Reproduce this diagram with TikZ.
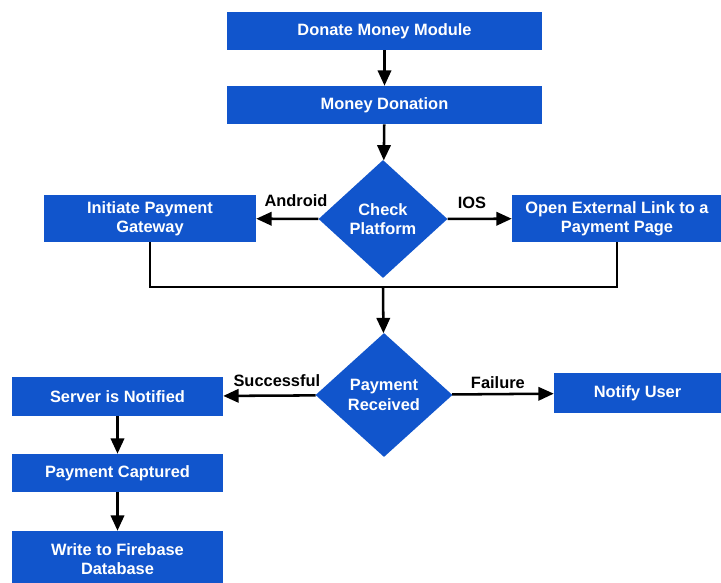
\documentclass[tikz,border=0pt]{standalone}
\usepackage{fontspec}
\setmainfont{Liberation Sans}
\usetikzlibrary{arrows.meta,positioning,shapes.geometric}
\definecolor{DrawBlue}{HTML}{1155CC}
\tikzstyle{process}  = [shape=rectangle,fill=DrawBlue,text=white,align=center,inner sep=0pt,font=\fontsize{12.3}{14.4}\selectfont\bfseries]
\tikzstyle{decision} = [shape=diamond,fill=DrawBlue,text=white,align=center,inner sep=1pt,font=\fontsize{12.3}{14.4}\selectfont\bfseries]
\tikzstyle{flow}     = [line width=1.9pt,-{Triangle[length=11.5pt,width=10pt]}]
\tikzstyle{branch}   = [inner sep=0pt,font=\fontsize{12.3}{14.4}\selectfont\bfseries]

\begin{document}
\begin{tikzpicture}[x=0.75pt,y=-0.75pt]
  \useasboundingbox (0,0) rectangle (721,582);

  % Module and platform check
  \node[process,minimum width=236.25pt,minimum height=28.5pt] (module) at (384.5,31) {Donate Money Module};
  \node[process,minimum width=236.25pt,minimum height=28.5pt] (donation) at (384.5,105) {Money Donation};
  \node[decision,minimum width=96.75pt,minimum height=88.5pt] (check) at (383,219) {Check\\Platform};
  \node[process,minimum width=159pt,minimum height=35.25pt] (gateway) at (150,218.5) {Initiate Payment\\Gateway};
  \node[process,minimum width=157.5pt,minimum height=35.25pt] (extlink) at (617,218.5) {Open External Link to a\\Payment Page};
  \coordinate (merge) at (383,287);

  % Payment result
  \node[decision,minimum width=102.75pt,minimum height=93pt] (received) at (384,395) {Payment\\Received};
  \node[process,minimum width=158.25pt,minimum height=29.25pt] (server) at (117.5,396.5) {Server is Notified};
  \node[process,minimum width=125.25pt,minimum height=30pt] (notify) at (637.5,393) {Notify User};
  \node[process,minimum width=158.25pt,minimum height=28.5pt] (captured) at (117.5,473) {Payment Captured};
  \node[process,minimum width=158.25pt,minimum height=42pt] (firebase) at (117.5,559) {Write to Firebase\\Database};

  % Connectors
  \draw[flow] (module) -- (donation);
  \draw[flow] (donation) -- (check);
  \draw[flow] (check) -- node[branch,pos=0.36,above=8pt] {Android} (gateway);
  \draw[flow] (check) -- node[branch,pos=0.38,above=6.5pt] {IOS} (extlink);
  \draw[line width=1.9pt] (gateway) |- (merge) -| (extlink);
  \draw[flow] (merge) -- (received);
  \draw[flow] (received) -- node[branch,pos=0.42,above=5.5pt] {Successful} (server);
  \draw[flow] (received) -- node[branch,pos=0.45,above=3.5pt] {Failure} (notify);
  \draw[flow] (server) -- (captured);
  \draw[flow] (captured) -- (firebase);
\end{tikzpicture}
\end{document}
